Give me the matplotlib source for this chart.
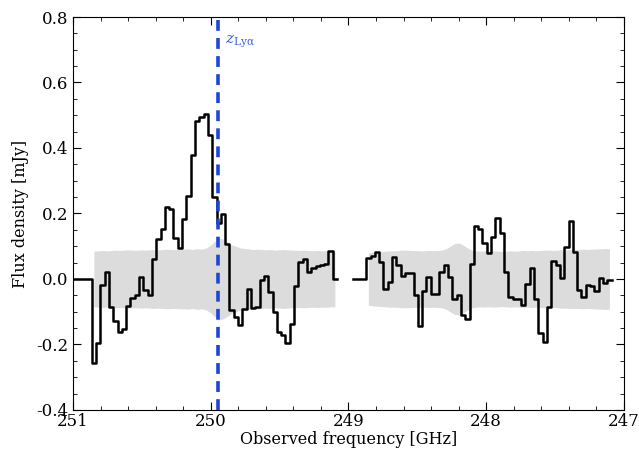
import matplotlib
matplotlib.use('Agg')
import matplotlib.pyplot as plt
from matplotlib.ticker import MultipleLocator, FormatStrFormatter
import numpy as np

# channel width [GHz] and first channel edge of each chunk
dnu = 0.03125
nu0_a = 250.864 + 5 * 0.03125
nu0_b = 248.965

# flux per channel [mJy], lower sideband chunk (5 empty channels first)
flux_a = [0.0, 0.0, 0.0, 0.0, 0.0,
          -0.256, -0.195, -0.018, 0.02, -0.086, -0.128, -0.162, -0.153, -0.081, -0.057,
          -0.05, 0.007, -0.034, -0.05, 0.06, 0.121, 0.153, 0.221, 0.215, 0.125,
          0.096, 0.184, 0.253, 0.378, 0.483, 0.494, 0.504, 0.44, 0.251, 0.17,
          0.198, 0.107, -0.095, -0.115, -0.14, -0.093, -0.032, -0.09, -0.085, -0.003,
          0.009, -0.039, -0.1, -0.161, -0.171, -0.194, -0.137, -0.021, 0.053, 0.06,
          0.022, 0.033, 0.04, 0.043, 0.045, 0.086, 0.0]
rms_a = [np.nan] * 5 + [
         0.085, 0.086, 0.087, 0.086, 0.087, 0.088, 0.087, 0.088, 0.089, 0.088,
         0.088, 0.089, 0.088, 0.089, 0.090, 0.089, 0.090, 0.091, 0.090, 0.090,
         0.091, 0.091, 0.092, 0.090, 0.093, 0.091, 0.094, 0.102, 0.114, 0.125,
         0.122, 0.114, 0.104, 0.100, 0.095, 0.093, 0.092, 0.090, 0.091, 0.090,
         0.089, 0.090, 0.088, 0.089, 0.090, 0.089, 0.088, 0.088, 0.087, 0.088,
         0.087, 0.086, 0.087, 0.086, 0.086, 0.085, 0.085]

flux_b = [0.0, 0.0, 0.0,
          0.063, 0.07, 0.081, 0.053, -0.032, -0.008, 0.068, 0.043, 0.009, 0.017,
          0.019, -0.049, -0.143, -0.036, 0.007, -0.046, -0.047, 0.022, 0.043, 0.005,
          -0.06, -0.05, -0.11, -0.123, 0.045, 0.162, 0.152, 0.111, 0.08, 0.129,
          0.185, 0.14, 0.022, -0.054, -0.062, -0.062, -0.079, -0.015, 0.035, -0.062,
          -0.166, -0.191, -0.085, 0.055, 0.043, 0.002, 0.099, 0.177, 0.083, -0.034,
          -0.056, -0.018, -0.021, -0.036, 0.002, -0.013, -0.004]
rms_b = [np.nan] * 3 + [
         0.080, 0.082, 0.083, 0.084, 0.085, 0.086, 0.086, 0.087, 0.088, 0.088,
         0.087, 0.087, 0.086, 0.086, 0.087, 0.086, 0.087, 0.088, 0.092, 0.100,
         0.108, 0.110, 0.104, 0.095, 0.088, 0.086, 0.085, 0.086, 0.085, 0.086,
         0.085, 0.084, 0.085, 0.086, 0.085, 0.086, 0.087, 0.086, 0.087, 0.086,
         0.087, 0.088, 0.088, 0.087, 0.088, 0.089, 0.089, 0.090, 0.090, 0.090,
         0.091, 0.090, 0.091, 0.092, 0.092, 0.093, 0.092]

nu_lya = 249.95

plt.rcParams['font.family'] = 'DejaVu Serif'
plt.rcParams['mathtext.fontset'] = 'dejavuserif'
plt.rcParams['axes.unicode_minus'] = False

fig = plt.figure(figsize=(6.39, 4.62), dpi=100)
ax = fig.add_axes([0.1142, 0.1126, 0.8623, 0.8506])

for nu0, flux, rms in [(nu0_a, flux_a, rms_a), (nu0_b, flux_b, rms_b)]:
    flux = np.array(flux)
    rms = np.array(rms)
    edges = nu0 - dnu * np.arange(len(flux) + 1)
    centers = nu0 - dnu * (np.arange(len(flux)) + 0.5)
    ok = ~np.isnan(rms)
    ax.fill_between(centers[ok], -rms[ok], rms[ok], color='#dcdcdc', lw=0, zorder=1)
    ax.step(edges, np.append(flux, flux[-1]), where='post', color='black', lw=1.8, zorder=3)

ax.axvline(nu_lya, color='#1f45d6', lw=2.6, ls=(0, (3, 2)), zorder=4)
ax.text(nu_lya - 0.05, 0.72, r'$z_{\rm Ly\alpha}$', color='#3a63e0', fontsize=11)

ax.set_xlim(251, 247)
ax.set_ylim(-0.4, 0.8)
ax.xaxis.set_major_locator(MultipleLocator(1))
ax.xaxis.set_minor_locator(MultipleLocator(0.2))
ax.yaxis.set_major_locator(MultipleLocator(0.2))
ax.yaxis.set_minor_locator(MultipleLocator(0.05))
ax.yaxis.set_major_formatter(FormatStrFormatter('%.1f'))
ax.tick_params(which='both', direction='in', top=True, right=True, labelsize=12)
ax.tick_params(which='major', length=6)
ax.tick_params(which='minor', length=3)
ax.tick_params(axis='x', pad=2)
ax.set_xlabel('Observed frequency [GHz]', fontsize=11.5, labelpad=1)
ax.set_ylabel('Flux density [mJy]', fontsize=11.5, labelpad=5)

plt.savefig('out.png', dpi=100)
